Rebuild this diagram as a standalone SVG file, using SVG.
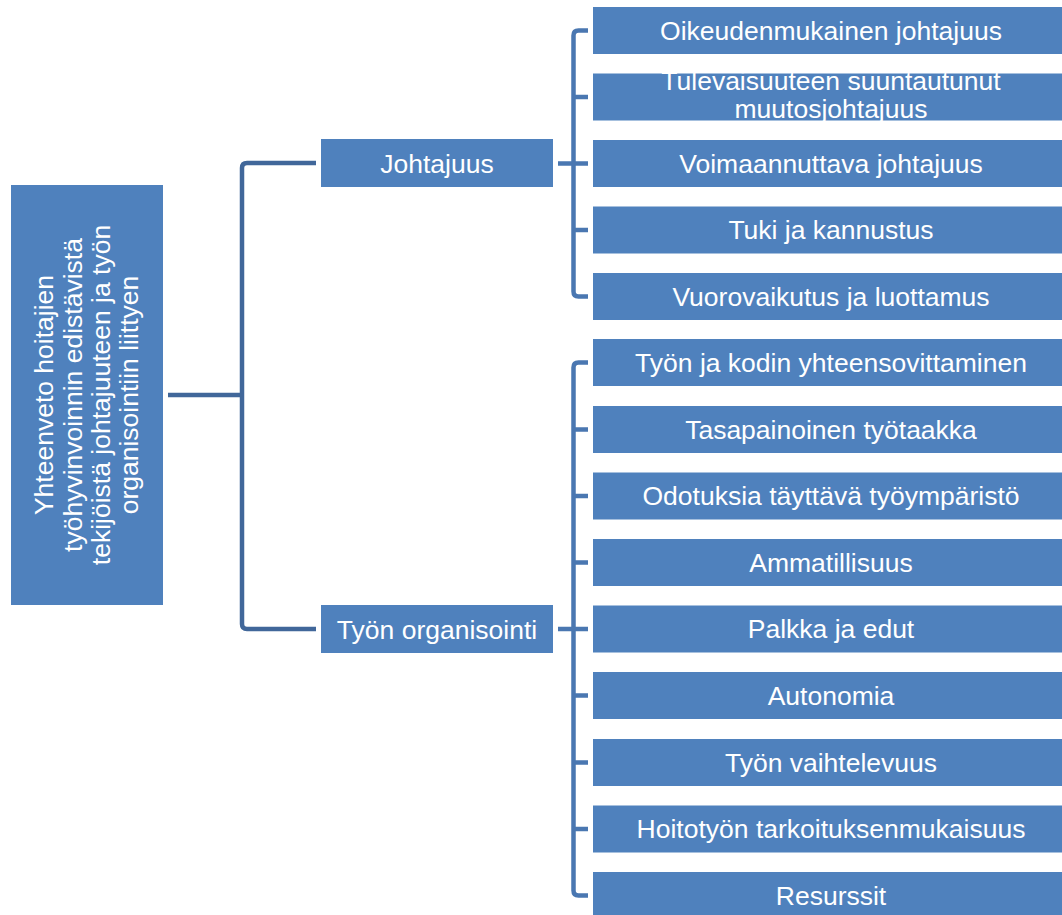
<svg xmlns="http://www.w3.org/2000/svg" width="1062" height="915" viewBox="0 0 1062 915">
  <style>
    .box { fill: #4F81BD; }
    .lbl { fill: #FFFFFF; font-family: "Liberation Sans", Arial, sans-serif; font-size: 26.5px; text-anchor: middle; }
    .trunk { fill: none; stroke: #41679A; stroke-width: 4.5; }
    .branch { fill: none; stroke: #4A77B1; stroke-width: 4.5; }
  </style>
  <rect width="1062" height="915" fill="#FFFFFF"/>

  <g id="connectors">
    <!-- root to the two main themes -->
    <path class="trunk" d="M168,395 H242"/>
    <path class="trunk" d="M316,163 H247 Q242,163 242,168 V624 Q242,629 247,629 H316"/>
    <!-- Johtajuus bracket -->
    <path class="branch" d="M588,30.5 H578.5 Q573.5,30.5 573.5,35.5 V291.5 Q573.5,296.5 578.5,296.5 H588"/>
    <path class="branch" d="M573.5,97 H588 M558,163.5 H588 M573.5,230 H588"/>
    <!-- Työn organisointi bracket -->
    <path class="branch" d="M588,362.5 H578.5 Q573.5,362.5 573.5,367.5 V890.5 Q573.5,895.5 578.5,895.5 H588"/>
    <path class="branch" d="M573.5,429.5 H588 M573.5,496 H588 M573.5,562.5 H588 M558,629 H588 M573.5,695.5 H588 M573.5,762.5 H588 M573.5,829 H588"/>
  </g>

  <g id="root">
    <rect class="box" x="11" y="185" width="152" height="420"/>
    <g transform="translate(0,395) rotate(-90)">
      <text class="lbl" x="0" y="53">Yhteenveto hoitajien</text>
      <text class="lbl" x="0" y="81.5">työhyvinvoinnin edistävistä</text>
      <text class="lbl" x="0" y="110">tekijöistä johtajuuteen ja työn</text>
      <text class="lbl" x="0" y="138">organisointiin liittyen</text>
    </g>
  </g>

  <g id="johtajuus">
    <rect class="box" x="321" y="139" width="232" height="48"/>
    <text class="lbl" x="437" y="172.5">Johtajuus</text>
  </g>
  <g id="tyon-organisointi">
    <rect class="box" x="321" y="605" width="232" height="48"/>
    <text class="lbl" x="437" y="638.5">Työn organisointi</text>
  </g>

  <g id="oikeudenmukainen">
    <rect class="box" x="593" y="7" width="476" height="47"/>
    <text class="lbl" x="831" y="39.5">Oikeudenmukainen johtajuus</text>
  </g>
  <g id="tulevaisuuteen">
    <rect class="box" x="593" y="73.5" width="476" height="47"/>
    <text class="lbl" x="831" y="89.5">Tulevaisuuteen suuntautunut</text>
    <text class="lbl" x="831" y="117.5">muutosjohtajuus</text>
  </g>
  <g id="voimaannuttava">
    <rect class="box" x="593" y="140" width="476" height="47"/>
    <text class="lbl" x="831" y="172.5">Voimaannuttava johtajuus</text>
  </g>
  <g id="tuki">
    <rect class="box" x="593" y="206.5" width="476" height="47"/>
    <text class="lbl" x="831" y="239">Tuki ja kannustus</text>
  </g>
  <g id="vuorovaikutus">
    <rect class="box" x="593" y="273" width="476" height="47"/>
    <text class="lbl" x="831" y="305.5">Vuorovaikutus ja luottamus</text>
  </g>

  <g id="tyo-ja-koti">
    <rect class="box" x="593" y="339" width="476" height="47"/>
    <text class="lbl" x="831" y="371.5">Työn ja kodin yhteensovittaminen</text>
  </g>
  <g id="tyotaakka">
    <rect class="box" x="593" y="406" width="476" height="47"/>
    <text class="lbl" x="831" y="438.5">Tasapainoinen työtaakka</text>
  </g>
  <g id="tyoymparisto">
    <rect class="box" x="593" y="472.5" width="476" height="47"/>
    <text class="lbl" x="831" y="505">Odotuksia täyttävä työympäristö</text>
  </g>
  <g id="ammatillisuus">
    <rect class="box" x="593" y="539" width="476" height="47"/>
    <text class="lbl" x="831" y="571.5">Ammatillisuus</text>
  </g>
  <g id="palkka">
    <rect class="box" x="593" y="605.5" width="476" height="47"/>
    <text class="lbl" x="831" y="638">Palkka ja edut</text>
  </g>
  <g id="autonomia">
    <rect class="box" x="593" y="672" width="476" height="47"/>
    <text class="lbl" x="831" y="704.5">Autonomia</text>
  </g>
  <g id="vaihtelevuus">
    <rect class="box" x="593" y="739" width="476" height="47"/>
    <text class="lbl" x="831" y="771.5">Työn vaihtelevuus</text>
  </g>
  <g id="tarkoituksenmukaisuus">
    <rect class="box" x="593" y="805.5" width="476" height="47"/>
    <text class="lbl" x="831" y="838">Hoitotyön tarkoituksenmukaisuus</text>
  </g>
  <g id="resurssit">
    <rect class="box" x="593" y="872" width="476" height="47"/>
    <text class="lbl" x="831" y="904.5">Resurssit</text>
  </g>
</svg>
